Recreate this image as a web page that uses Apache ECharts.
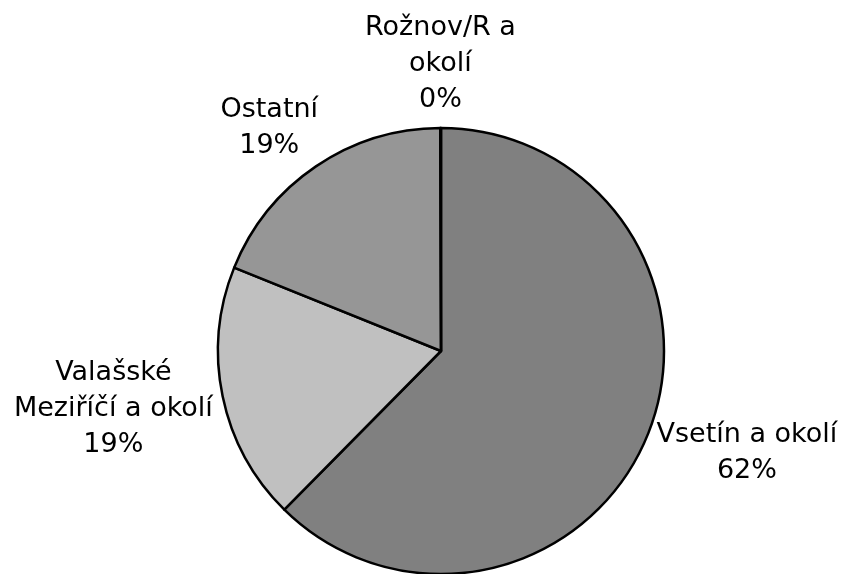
<!DOCTYPE html>
<html>
<head>
<meta charset="utf-8">
<script src="https://cdn.jsdelivr.net/npm/echarts@6/dist/echarts.min.js"></script>
<style>
  html, body { margin: 0; padding: 0; background: #fff; }
  #chart { width: 845px; height: 574px; }
</style>
</head>
<body>
<div id="chart"></div>
<script>
const categories = ['Vsetín a okolí', 'Valašské\nMeziříčí a okolí', 'Ostatní', 'Rožnov/R a\nokolí'];
const values = [62.4, 18.7, 18.85, 0.05];
const colors = ['#808080', '#c0c0c0', '#969696', '#b0b0b0'];

const CX = 441, CY = 351, R = 223, GAP = 10;
const total = values.reduce((a, b) => a + b, 0);
const midAngles = [];
let acc = 0;
values.forEach(v => {
  midAngles.push(((acc + v / 2) / total) * 2 * Math.PI);
  acc += v;
});

const chart = echarts.init(document.getElementById('chart'), null, { renderer: 'canvas' });
chart.setOption({
  animation: false,
  backgroundColor: '#ffffff',
  series: [{
    type: 'pie',
    center: [CX, CY],
    radius: R,
    startAngle: 90,
    clockwise: true,
    avoidLabelOverlap: false,
    emphasis: { disabled: true },
    data: categories.map((c, i) => ({
      name: c, value: values[i],
      itemStyle: { color: colors[i] }
    })),
    itemStyle: { borderColor: '#000000', borderWidth: 2.5 },
    label: {
      show: true,
      position: 'outside',
      formatter: p => p.name + '\n' + Math.round(p.percent) + '%',
      fontFamily: 'DejaVu Sans',
      fontSize: 27,
      lineHeight: 36,
      color: '#000000',
      align: 'center'
    },
    labelLine: { show: false },
    labelLayout: function (params) {
      const a = midAngles[params.dataIndex];
      const ux = Math.sin(a), uy = -Math.cos(a);
      const w = params.labelRect.width / 2, h = params.labelRect.height / 2;
      const px = CX + (R + GAP) * ux, py = CY + (R + GAP) * uy;
      const kx = Math.sign(ux) * Math.min(1, 1.5 * Math.abs(ux));
      return {
        x: px + kx * w,
        y: py + uy * h,
        align: 'center',
        verticalAlign: 'middle'
      };
    }
  }]
});
</script>
</body>
</html>
